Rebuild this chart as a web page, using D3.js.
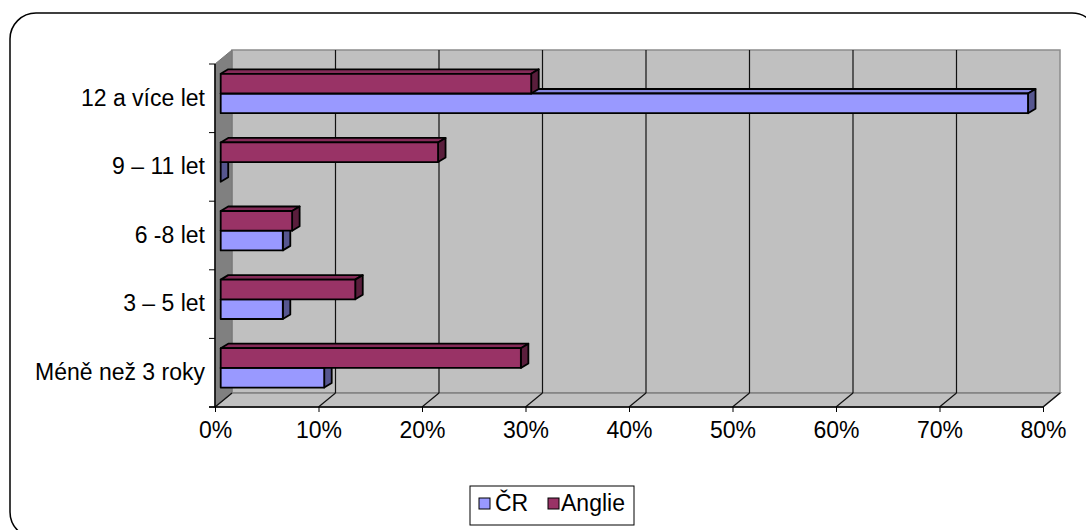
<!DOCTYPE html>
<html>
<head>
<meta charset="utf-8">
<script src="https://cdn.jsdelivr.net/npm/d3@7"></script>
<style>
  html, body { margin: 0; padding: 0; background: #fff; }
  svg { display: block; font-family: "Liberation Sans", Arial, sans-serif; }
</style>
</head>
<body>
<svg id="chart" width="1086" height="530"></svg>
<script>
// Age groups (bottom to top as shown on the vertical axis)
const categories = ["Méně než 3 roky", "3 – 5 let", "6 -8 let", "9 – 11 let", "12 a více let"];
const seriesNames = ["ČR", "Anglie"];
const valuesCR = [0.10, 0.06, 0.06, 0.00, 0.78];
const valuesAnglie = [0.29, 0.13, 0.069, 0.21, 0.30];
const xTicks = [0, 0.1, 0.2, 0.3, 0.4, 0.5, 0.6, 0.7, 0.8];

const colors = {
  "ČR":     { front: "#9999FF", top: "#8585E0", side: "#56568F" },
  "Anglie": { front: "#993366", top: "#852B58", side: "#5A1E3C" }
};

const FONT = "Liberation Sans, Arial, sans-serif";
const FONT_SIZE = 23;

const svg = d3.select("#chart");

// Front plane of the 3D plot and its depth offsets
const plot = { left: 215, right: 1043, top: 64, bottom: 407 };
const wallDepth = { dx: 17, dy: -14 };
const barOffset = { dx: 5.7, dy: -4.8 };
const barDepth = { dx: 7.5, dy: -4.5 };

const x = d3.scaleLinear().domain([0, 0.8]).range([plot.left, plot.right]);
const y = d3.scaleBand()
  .domain(categories.slice().reverse())
  .range([plot.top, plot.bottom])
  .paddingInner(0.426)
  .paddingOuter(0.213);
const ySub = d3.scaleBand().domain(["Anglie", "ČR"]).range([0, y.bandwidth()]);

// Outer rounded frame
svg.append("rect")
  .attr("x", 10).attr("y", 13)
  .attr("width", 1088).attr("height", 525)
  .attr("rx", 26).attr("ry", 26)
  .attr("fill", "#fff").attr("stroke", "#000").attr("stroke-width", 1.5);

// Back wall
const backL = plot.left + wallDepth.dx, backR = plot.right + wallDepth.dx;
const backT = plot.top + wallDepth.dy, backB = plot.bottom + wallDepth.dy;
svg.append("rect")
  .attr("x", backL).attr("y", backT)
  .attr("width", backR - backL).attr("height", backB - backT)
  .attr("fill", "#C0C0C0").attr("stroke", "#8C8C8C").attr("stroke-width", 1.5);

// Floor
svg.append("path")
  .attr("d", `M${plot.left},${plot.bottom} L${backL},${backB} L${backR},${backB} L${plot.right},${plot.bottom} Z`)
  .attr("fill", "#C0C0C0").attr("stroke", "#808080").attr("stroke-width", 1.5);

// Left side wall
svg.append("path")
  .attr("d", `M${plot.left},${plot.top} L${backL},${backT} L${backL},${backB} L${plot.left},${plot.bottom} Z`)
  .attr("fill", "#808080").attr("stroke", "#777").attr("stroke-width", 1);

// Gridlines on the back wall and across the floor
const grid = svg.append("g").attr("stroke", "#111").attr("stroke-width", 1.2).attr("fill", "none");
xTicks.forEach(t => {
  const xb = x(t) + wallDepth.dx;
  if (t > 0 && t < 0.8) {
    grid.append("line").attr("x1", xb).attr("x2", xb).attr("y1", backT).attr("y2", backB);
  }
  grid.append("line").attr("x1", xb).attr("y1", backB).attr("x2", x(t)).attr("y2", plot.bottom);
});

// Axes on the front plane
const xAxis = d3.axisBottom(x).tickValues(xTicks).tickFormat(d3.format(".0%"))
  .tickSize(5).tickPadding(10).tickSizeOuter(0);
const gx = svg.append("g").attr("transform", `translate(0,${plot.bottom})`).call(xAxis);
gx.select(".domain").remove();
gx.selectAll("line").attr("stroke", "#000");
gx.selectAll("text").attr("font-size", FONT_SIZE).attr("fill", "#000").attr("font-family", FONT);
svg.append("line").attr("x1", plot.left - 6).attr("x2", plot.right)
  .attr("y1", plot.bottom).attr("y2", plot.bottom).attr("stroke", "#000").attr("stroke-width", 1.5);

const yAxis = d3.axisLeft(y).tickSize(0).tickPadding(10);
const gy = svg.append("g").attr("transform", `translate(${plot.left},0)`).call(yAxis);
gy.select(".domain").remove();
gy.selectAll("text").attr("font-size", FONT_SIZE).attr("fill", "#000").attr("font-family", FONT);
svg.append("line").attr("x1", plot.left).attr("x2", plot.left)
  .attr("y1", plot.top).attr("y2", plot.bottom).attr("stroke", "#000").attr("stroke-width", 1.5);
// Category boundary ticks
d3.range(categories.length + 1).forEach(i => {
  const yy = plot.top + i * y.step();
  svg.append("line").attr("x1", plot.left - 6).attr("x2", plot.left)
    .attr("y1", yy).attr("y2", yy).attr("stroke", "#000").attr("stroke-width", 1);
});

// 3D bars
const bars = [];
categories.forEach((c, i) => {
  bars.push({ cat: c, series: "ČR", value: valuesCR[i] });
  bars.push({ cat: c, series: "Anglie", value: valuesAnglie[i] });
});

const barG = svg.append("g").attr("stroke", "#000").attr("stroke-width", 1.8).attr("stroke-linejoin", "round");
bars.forEach(b => {
  const x0 = x(0) + barOffset.dx;
  const x1 = x(b.value) + barOffset.dx;
  const y0 = y(b.cat) + ySub(b.series) + barOffset.dy;
  const h = ySub.bandwidth();
  const col = colors[b.series];
  const g = barG.append("g");
  // top face
  g.append("path")
    .attr("d", `M${x0},${y0} L${x0 + barDepth.dx},${y0 + barDepth.dy} L${x1 + barDepth.dx},${y0 + barDepth.dy} L${x1},${y0} Z`)
    .attr("fill", col.top);
  // end face
  g.append("path")
    .attr("d", `M${x1},${y0} L${x1 + barDepth.dx},${y0 + barDepth.dy} L${x1 + barDepth.dx},${y0 + h + barDepth.dy} L${x1},${y0 + h} Z`)
    .attr("fill", col.side);
  // front face
  if (x1 > x0) {
    g.append("rect").attr("x", x0).attr("y", y0).attr("width", x1 - x0).attr("height", h)
      .attr("fill", col.front);
  }
});

// Legend
const legend = svg.append("g");
legend.append("rect").attr("x", 470).attr("y", 486).attr("width", 164).attr("height", 39)
  .attr("fill", "#fff").attr("stroke", "#000").attr("stroke-width", 1);
const legendItems = [
  { name: seriesNames[0], sx: 479, tx: 495 },
  { name: seriesNames[1], sx: 548, tx: 561 }
];
legendItems.forEach(it => {
  legend.append("rect").attr("x", it.sx).attr("y", 498).attr("width", 11).attr("height", 11)
    .attr("fill", colors[it.name].front).attr("stroke", "#000").attr("stroke-width", 1);
  legend.append("text").attr("x", it.tx).attr("y", 511).attr("font-size", FONT_SIZE)
    .attr("font-family", FONT).attr("fill", "#000").text(it.name);
});
</script>
</body>
</html>
